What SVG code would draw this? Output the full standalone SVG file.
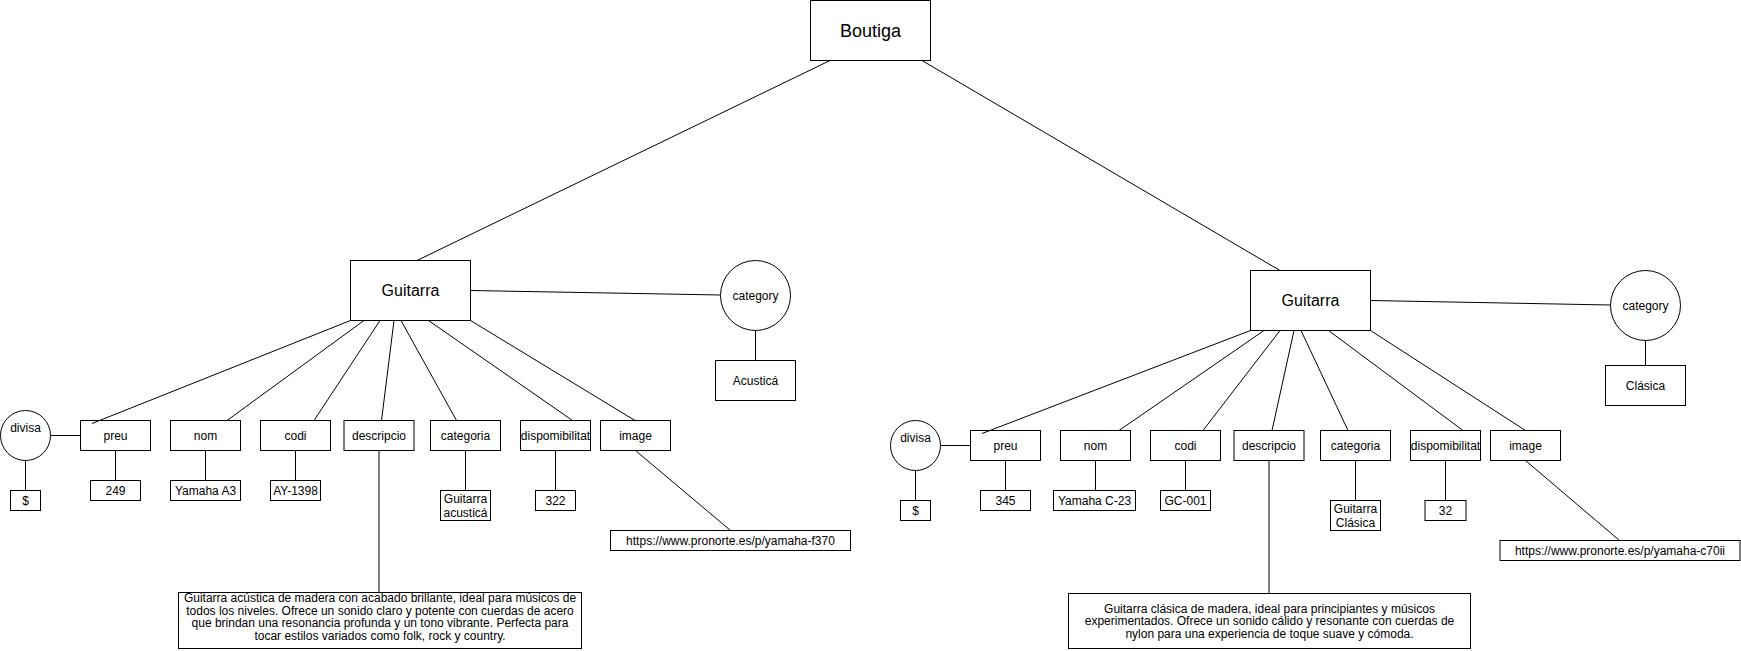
<svg xmlns="http://www.w3.org/2000/svg" width="1741" height="651" viewBox="0 0 1741 651">
<style>
  .box { fill: #ffffff; stroke: #000000; stroke-width: 1; }
  .edge { fill: none; stroke: #000000; stroke-width: 1; }
  text { font-family: "Liberation Sans", Arial, Helvetica, sans-serif; fill: #000000; text-anchor: middle; }
  .t12 { font-size: 12px; }
  .t16 { font-size: 16px; }
  .t18 { font-size: 18px; }
</style>
<rect x="0" y="0" width="1741" height="651" fill="#ffffff"/>

<!-- Root -->
<g id="boutiga">
  <rect class="box" x="810.5" y="0.5" width="120" height="60"/>
  <text class="t18" x="870.5" y="36.5">Boutiga</text>
</g>

<!-- Left product -->
<g id="guitarra1">
  <rect class="box" x="350.5" y="260.5" width="120" height="60"/>
  <text class="t16" x="410.5" y="296">Guitarra</text>
</g>
<g id="category1">
  <circle class="box" cx="755.5" cy="295.5" r="35"/>
  <text class="t12" x="755.5" y="299.5">category</text>
</g>
<g id="category1-value">
  <rect class="box" x="715.5" y="360.5" width="80" height="40"/>
  <text class="t12" x="755.5" y="384.5">Acusticá</text>
</g>
<g id="divisa1">
  <circle class="box" cx="25.5" cy="435.5" r="25"/>
  <text class="t12" x="25.5" y="431.5">divisa</text>
</g>
<g id="divisa1-value">
  <rect class="box" x="10.5" y="490.5" width="30" height="20"/>
  <text class="t12" x="25.5" y="504.5">$</text>
</g>
<g id="preu1">
  <rect class="box" x="80.5" y="420.5" width="70" height="30"/>
  <text class="t12" x="115.5" y="439.5">preu</text>
</g>
<g id="preu1-value">
  <rect class="box" x="90.5" y="480.5" width="50" height="20"/>
  <text class="t12" x="115.5" y="494.5">249</text>
</g>
<g id="nom1">
  <rect class="box" x="170.5" y="420.5" width="70" height="30"/>
  <text class="t12" x="205.5" y="439.5">nom</text>
</g>
<g id="nom1-value">
  <rect class="box" x="170.5" y="480.5" width="70" height="20"/>
  <text class="t12" x="205.5" y="494.5">Yamaha A3</text>
</g>
<g id="codi1">
  <rect class="box" x="260.5" y="420.5" width="70" height="30"/>
  <text class="t12" x="295.5" y="439.5">codi</text>
</g>
<g id="codi1-value">
  <rect class="box" x="270.5" y="480.5" width="50" height="20"/>
  <text class="t12" x="295.5" y="494.5">AY-1398</text>
</g>
<g id="descripcio1">
  <rect class="box" x="344" y="420.5" width="70" height="30"/>
  <text class="t12" x="379" y="439.5">descripcio</text>
</g>
<g id="descripcio1-value">
  <rect class="box" x="178.5" y="592.5" width="403" height="56"/>
  <text class="t12" x="380" y="602">Guitarra acústica de madera con acabado brillante, ideal para músicos de</text>
  <text class="t12" x="380" y="614.6">todos los niveles. Ofrece un sonido claro y potente con cuerdas de acero</text>
  <text class="t12" x="380" y="627.2">que brindan una resonancia profunda y un tono vibrante. Perfecta para</text>
  <text class="t12" x="380" y="639.8">tocar estilos variados como folk, rock y country.</text>
</g>
<g id="categoria1">
  <rect class="box" x="430.5" y="420.5" width="70" height="30"/>
  <text class="t12" x="465.5" y="439.5">categoria</text>
</g>
<g id="categoria1-value">
  <rect class="box" x="440.5" y="490.5" width="50" height="30"/>
  <text class="t12" x="465.5" y="502.5">Guitarra</text>
  <text class="t12" x="465.5" y="516.9">acusticá</text>
</g>
<g id="dispomibilitat1">
  <rect class="box" x="520.5" y="420.5" width="70" height="30"/>
  <text class="t12" x="555.5" y="439.5">dispomibilitat</text>
</g>
<g id="dispomibilitat1-value">
  <rect class="box" x="535.5" y="490.5" width="40" height="20"/>
  <text class="t12" x="555.5" y="504.5">322</text>
</g>
<g id="image1">
  <rect class="box" x="600.5" y="420.5" width="70" height="30"/>
  <text class="t12" x="635.5" y="439.5">image</text>
</g>
<g id="image1-value">
  <rect class="box" x="610.5" y="530.5" width="240" height="20"/>
  <text class="t12" x="730.5" y="544.5">https://www.pronorte.es/p/yamaha-f370</text>
</g>

<!-- Right product -->
<g id="guitarra2">
  <rect class="box" x="1250.5" y="270.5" width="120" height="60"/>
  <text class="t16" x="1310.5" y="306">Guitarra</text>
</g>
<g id="category2">
  <circle class="box" cx="1645.5" cy="305.5" r="35"/>
  <text class="t12" x="1645.5" y="309.5">category</text>
</g>
<g id="category2-value">
  <rect class="box" x="1605.5" y="365.5" width="80" height="40"/>
  <text class="t12" x="1645.5" y="389.5">Clásica</text>
</g>
<g id="divisa2">
  <circle class="box" cx="915.5" cy="445.5" r="25"/>
  <text class="t12" x="915.5" y="442">divisa</text>
</g>
<g id="divisa2-value">
  <rect class="box" x="900.5" y="500.5" width="30" height="20"/>
  <text class="t12" x="915.5" y="514.5">$</text>
</g>
<g id="preu2">
  <rect class="box" x="970.5" y="430.5" width="70" height="30"/>
  <text class="t12" x="1005.5" y="449.5">preu</text>
</g>
<g id="preu2-value">
  <rect class="box" x="980.5" y="490.5" width="50" height="20"/>
  <text class="t12" x="1005.5" y="504.5">345</text>
</g>
<g id="nom2">
  <rect class="box" x="1060.5" y="430.5" width="70" height="30"/>
  <text class="t12" x="1095.5" y="449.5">nom</text>
</g>
<g id="nom2-value">
  <rect class="box" x="1053.5" y="490.5" width="82" height="20"/>
  <text class="t12" x="1094.5" y="504.5">Yamaha C-23</text>
</g>
<g id="codi2">
  <rect class="box" x="1150.5" y="430.5" width="70" height="30"/>
  <text class="t12" x="1185.5" y="449.5">codi</text>
</g>
<g id="codi2-value">
  <rect class="box" x="1160.5" y="490.5" width="50" height="20"/>
  <text class="t12" x="1185.5" y="504.5">GC-001</text>
</g>
<g id="descripcio2">
  <rect class="box" x="1234" y="430.5" width="70" height="30"/>
  <text class="t12" x="1269" y="449.5">descripcio</text>
</g>
<g id="descripcio2-value">
  <rect class="box" x="1068.5" y="593.5" width="402" height="55"/>
  <text class="t12" x="1269.5" y="612.7">Guitarra clásica de madera, ideal para principiantes y músicos</text>
  <text class="t12" x="1269.5" y="625.3">experimentados. Ofrece un sonido cálido y resonante con cuerdas de</text>
  <text class="t12" x="1269.5" y="637.9">nylon para una experiencia de toque suave y cómoda.</text>
</g>
<g id="categoria2">
  <rect class="box" x="1320.5" y="430.5" width="70" height="30"/>
  <text class="t12" x="1355.5" y="449.5">categoria</text>
</g>
<g id="categoria2-value">
  <rect class="box" x="1330.5" y="500.5" width="50" height="30"/>
  <text class="t12" x="1355.5" y="512.5">Guitarra</text>
  <text class="t12" x="1355.5" y="526.9">Clásica</text>
</g>
<g id="dispomibilitat2">
  <rect class="box" x="1410.5" y="430.5" width="70" height="30"/>
  <text class="t12" x="1445.5" y="449.5">dispomibilitat</text>
</g>
<g id="dispomibilitat2-value">
  <rect class="box" x="1425" y="500.5" width="41" height="20"/>
  <text class="t12" x="1445.5" y="514.5">32</text>
</g>
<g id="image2">
  <rect class="box" x="1490.5" y="430.5" width="70" height="30"/>
  <text class="t12" x="1525.5" y="449.5">image</text>
</g>
<g id="image2-value">
  <rect class="box" x="1500" y="540.5" width="240" height="20"/>
  <text class="t12" x="1620" y="554.5">https://www.pronorte.es/p/yamaha-c70ii</text>
</g>

<!-- Connectors -->
<g id="connectors" class="edge">
  <line class="edge" x1="830" y1="60.5" x2="417" y2="260.5"/>
  <line class="edge" x1="922" y1="60.5" x2="1280" y2="270.5"/>

  <line class="edge" x1="470.5" y1="290.5" x2="720.5" y2="295"/>
  <line class="edge" x1="755.5" y1="330.5" x2="755.5" y2="360.5"/>
  <line class="edge" x1="350.5" y1="320.5" x2="92" y2="423.5"/>
  <line class="edge" x1="364" y1="320.5" x2="227" y2="420.5"/>
  <line class="edge" x1="380" y1="320.5" x2="314" y2="420.5"/>
  <line class="edge" x1="394" y1="320.5" x2="381.5" y2="420.5"/>
  <line class="edge" x1="401" y1="320.5" x2="456.5" y2="420.5"/>
  <line class="edge" x1="428.5" y1="320.5" x2="572.5" y2="420.5"/>
  <line class="edge" x1="470.5" y1="320.5" x2="635" y2="420.5"/>
  <line class="edge" x1="50.5" y1="435.5" x2="80.5" y2="435.5"/>
  <line class="edge" x1="25.5" y1="460.5" x2="25.5" y2="490.5"/>
  <line class="edge" x1="115.5" y1="450.5" x2="115.5" y2="480.5"/>
  <line class="edge" x1="205.5" y1="450.5" x2="205.5" y2="480.5"/>
  <line class="edge" x1="295.5" y1="450.5" x2="295.5" y2="480.5"/>
  <line class="edge" x1="379" y1="450.5" x2="379" y2="592.5"/>
  <line class="edge" x1="465.5" y1="450.5" x2="465.5" y2="490.5"/>
  <line class="edge" x1="555.5" y1="450.5" x2="555.5" y2="490.5"/>
  <line class="edge" x1="635.5" y1="450.5" x2="730.5" y2="530.5"/>

  <line class="edge" x1="1370.5" y1="300.5" x2="1610.5" y2="305"/>
  <line class="edge" x1="1645.5" y1="340.5" x2="1645.5" y2="365.5"/>
  <line class="edge" x1="1250.5" y1="330.5" x2="982" y2="433.5"/>
  <line class="edge" x1="1264" y1="330.5" x2="1119" y2="430.5"/>
  <line class="edge" x1="1280" y1="330.5" x2="1203" y2="430.5"/>
  <line class="edge" x1="1294" y1="330.5" x2="1272" y2="430.5"/>
  <line class="edge" x1="1301" y1="330.5" x2="1348" y2="430.5"/>
  <line class="edge" x1="1328.5" y1="330.5" x2="1463" y2="430.5"/>
  <line class="edge" x1="1370.5" y1="330.5" x2="1525.5" y2="430.5"/>
  <line class="edge" x1="940.5" y1="445.5" x2="970.5" y2="445.5"/>
  <line class="edge" x1="915.5" y1="470.5" x2="915.5" y2="500.5"/>
  <line class="edge" x1="1005.5" y1="460.5" x2="1005.5" y2="490.5"/>
  <line class="edge" x1="1095.5" y1="460.5" x2="1095.5" y2="490.5"/>
  <line class="edge" x1="1185.5" y1="460.5" x2="1185.5" y2="490.5"/>
  <line class="edge" x1="1269" y1="460.5" x2="1269" y2="593.5"/>
  <line class="edge" x1="1355.5" y1="460.5" x2="1355.5" y2="500.5"/>
  <line class="edge" x1="1445.5" y1="460.5" x2="1445.5" y2="500.5"/>
  <line class="edge" x1="1525.5" y1="460.5" x2="1619.5" y2="540.5"/>
</g>
</svg>
